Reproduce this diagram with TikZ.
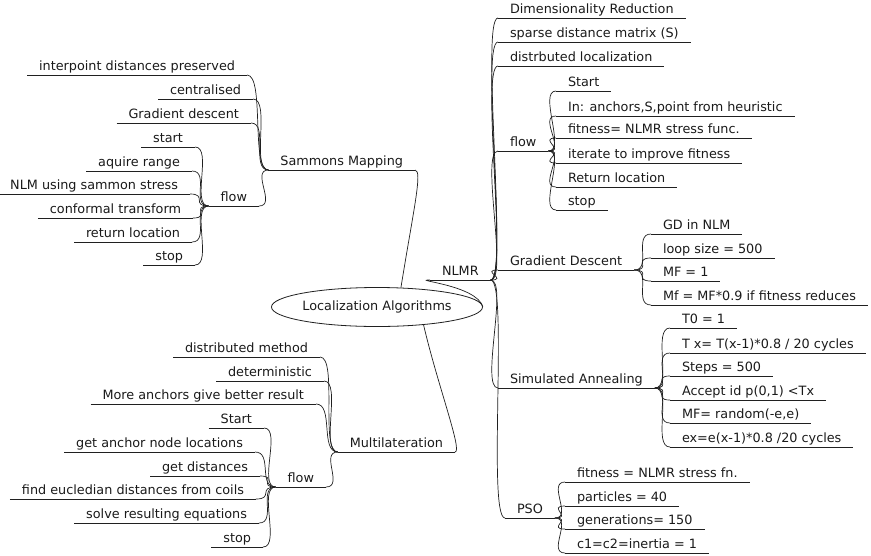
\documentclass[tikz,border=0pt]{standalone}
\usepackage{fontspec}
\setmainfont{DejaVu Sans}
\usetikzlibrary{shapes.geometric}
\definecolor{txt}{HTML}{1A1A1A}
\definecolor{linec}{HTML}{202020}
\begin{document}
\begin{tikzpicture}[x=1pt,y=-1pt,
  every node/.style={font=\fontsize{12.8}{15}\selectfont, text=txt},
  uline/.style={draw=linec, line width=0.8pt},
  conn/.style={draw=linec, line width=0.7pt},
  topic/.style={inner xsep=12pt, inner ysep=4.5pt, text height=9.6pt, text depth=0pt, outer sep=0pt,
    append after command={(\tikzlastnode.south west) edge[uline] (\tikzlastnode.south east)}},
  rnode/.style={topic, anchor=south west},
  lnode/.style={topic, anchor=south east},
  rootnode/.style={ellipse, draw=linec, line width=0.8pt, minimum width=185pt, minimum height=39pt, inner sep=0pt}
]
\useasboundingbox (0,0) rectangle (871,555);

% root
\node[rootnode] (root) at (377,307) {Localization Algorithms};

% ---------- right side ----------
\node[rnode] (nlmr) at (430,280) {NLMR};
\node[rnode] (dr)  at (498,18)  {Dimensionality Reduction};
\node[rnode] (sdm) at (498,42)  {sparse distance matrix (S)};
\node[rnode] (dl)  at (498,66)  {distrbuted localization};
\node[rnode] (nf)  at (498,151) {flow};
\node[rnode] (gd)  at (498,270) {Gradient Descent};
\node[rnode] (sa)  at (498,388) {Simulated Annealing};
\node[rnode] (pso) at (505,518) {PSO};

\node[rnode] (nf1) at (556,91)  {Start};
\node[rnode] (nf2) at (556,116) {In: anchors,S,point from heuristic};
\node[rnode] (nf3) at (556,138) {fitness= NLMR stress func.};
\node[rnode] (nf4) at (556,163) {iterate to improve fitness};
\node[rnode] (nf5) at (556,187) {Return location};
\node[rnode] (nf6) at (556,210) {stop};

\node[rnode] (gd1) at (651,234) {GD in NLM};
\node[rnode] (gd2) at (651,258) {loop size = 500};
\node[rnode] (gd3) at (651,281) {MF = 1};
\node[rnode] (gd4) at (651,305) {Mf = MF*0.9 if fitness reduces};

\node[rnode] (sa1) at (670,328) {T0 = 1};
\node[rnode] (sa2) at (670,353) {T x= T(x-1)*0.8 / 20 cycles};
\node[rnode] (sa3) at (670,376) {Steps = 500};
\node[rnode] (sa4) at (670,400) {Accept id p(0,1) <Tx};
\node[rnode] (sa5) at (670,423) {MF= random(-e,e)};
\node[rnode] (sa6) at (670,447) {ex=e(x-1)*0.8 /20 cycles};

\node[rnode] (ps1) at (565,482) {fitness = NLMR stress fn.};
\node[rnode] (ps2) at (565,506) {particles = 40};
\node[rnode] (ps3) at (565,529) {generations= 150};
\node[rnode] (ps4) at (565,553) {c1=c2=inertia = 1};

% ---------- left side ----------
\node[lnode] (sam) at (415,170) {Sammons Mapping};
\node[lnode] (sm1) at (247,75)  {interpoint distances preserved};
\node[lnode] (sm2) at (253,99)  {centralised};
\node[lnode] (sm3) at (251,123) {Gradient descent};
\node[lnode] (sf)  at (259,206) {flow};
\node[lnode] (sf1) at (195,147) {start};
\node[lnode] (sf2) at (192,171) {aquire range};
\node[lnode] (sf3) at (190,194) {NLM using sammon stress};
\node[lnode] (sf4) at (193,218) {conformal transform};
\node[lnode] (sf5) at (192,242) {return location};
\node[lnode] (sf6) at (195,265) {stop};

\node[lnode] (ml)  at (455,452) {Multilateration};
\node[lnode] (ml1) at (320,357) {distributed method};
\node[lnode] (ml2) at (324,381) {deterministic};
\node[lnode] (ml3) at (316,404) {More anchors give better result};
\node[lnode] (mf)  at (326,487) {flow};
\node[lnode] (mf1) at (264,428) {Start};
\node[lnode] (mf2) at (255,452) {get anchor node locations};
\node[lnode] (mf3) at (260,476) {get distances};
\node[lnode] (mf4) at (256,499) {find eucledian distances from coils};
\node[lnode] (mf5) at (259,523) {solve resulting equations};
\node[lnode] (mf6) at (263,547) {stop};

% ---------- connectors ----------
\draw[conn] (root.east) .. controls +(-6,-22) and +(-20,0) .. (nlmr.south west);
\draw[conn] (root.39) .. controls +(12,-75) and +(8,0) .. (sam.south east);
\draw[conn] (root.-21) .. controls +(14,60) and +(8,0) .. (ml.south east);

\foreach \p/\c in {nlmr/dr, nlmr/sdm, nlmr/dl, nlmr/nf, nlmr/gd, nlmr/sa, nlmr/pso,
                   nf/nf1, nf/nf2, nf/nf3, nf/nf4, nf/nf5, nf/nf6,
                   gd/gd1, gd/gd2, gd/gd3, gd/gd4,
                   sa/sa1, sa/sa2, sa/sa3, sa/sa4, sa/sa5, sa/sa6,
                   pso/ps1, pso/ps2, pso/ps3, pso/ps4}
  \draw[conn] (\p.south east) .. controls +(18,0) and +(-18,0) .. (\c.south west);

\foreach \p/\c in {sam/sm1, sam/sm2, sam/sm3, sam/sf,
                   sf/sf1, sf/sf2, sf/sf3, sf/sf4, sf/sf5, sf/sf6,
                   ml/ml1, ml/ml2, ml/ml3, ml/mf,
                   mf/mf1, mf/mf2, mf/mf3, mf/mf4, mf/mf5, mf/mf6}
  \draw[conn] (\p.south west) .. controls +(-18,0) and +(18,0) .. (\c.south east);
\end{tikzpicture}
\end{document}
